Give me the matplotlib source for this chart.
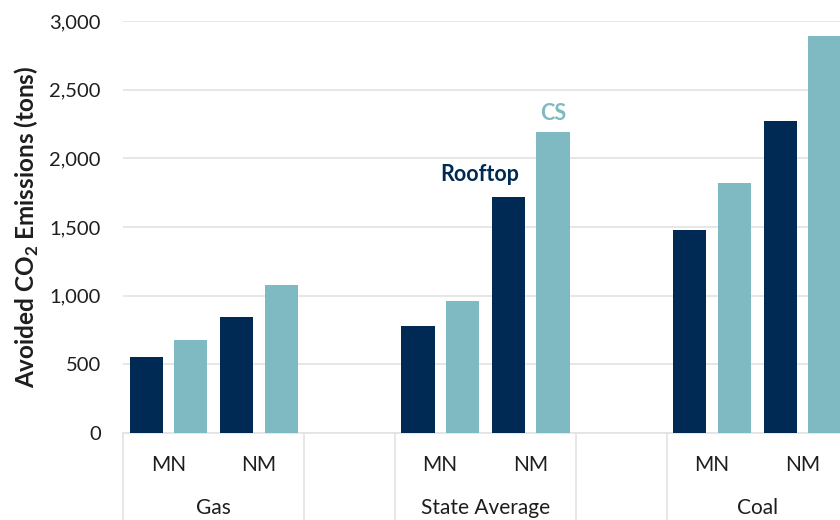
import matplotlib
matplotlib.use("Agg")
import matplotlib.pyplot as plt
import matplotlib.transforms as mtransforms

# ----------------------------------------------------------------------
# data
# ----------------------------------------------------------------------
groups = ["Gas", "State Average", "Coal"]
states = ["MN", "NM"]
rooftop = [553, 845, 779, 1718, 1478, 2272]
cs = [677, 1078, 961, 2192, 1820, 2891]
y_ticks = [0, 500, 1000, 1500, 2000, 2500, 3000]

NAVY = "#002a54"
TEAL = "#7fb9c2"
GRID = "#e3e3e3"
TEXT = "#1e1e1e"

plt.rcParams["font.family"] = ["Lato", "DejaVu Sans"]
plt.rcParams["mathtext.fontset"] = "custom"
plt.rcParams["mathtext.rm"] = "Lato"
plt.rcParams["mathtext.bf"] = "Lato:bold"

fig = plt.figure(figsize=(8.4, 5.2), dpi=100)
# axes spans slightly past the right edge: the reference is cropped there
ax = fig.add_axes([123 / 840, 1 - 433 / 520, 725 / 840, 412 / 520])

# x position of each (group, state) slot; one empty slot between groups
xs = [g * 3 + s for g in range(len(groups)) for s in range(len(states))]
w = 0.365
off = 0.245
ax.bar([x - off for x in xs], rooftop, width=w, color=NAVY, zorder=3)
ax.bar([x + off for x in xs], cs, width=w, color=TEAL, zorder=3)

ax.set_xlim(-0.5, 7.5)
ax.set_ylim(0, 3000)
ax.set_yticks(y_ticks)
ax.set_yticklabels([f"{v:,}" for v in y_ticks])
ax.yaxis.grid(True, color=GRID, linewidth=1.2, zorder=0)
ax.tick_params(axis="y", length=0, pad=16, labelsize=14.5, labelcolor=TEXT)
ax.set_xticks([])
for side in ["top", "right", "left"]:
    ax.spines[side].set_visible(False)
ax.spines["bottom"].set_color(GRID)
ax.spines["bottom"].set_linewidth(1.2)

ax.set_ylabel(r"Avoided CO$_\mathbf{2}$ Emissions (tons)", fontsize=17.5,
              fontweight="bold", color=TEXT, labelpad=6)

# two-level category axis
trans = mtransforms.blended_transform_factory(ax.transData, ax.transAxes)
for x, st in zip(xs, states * len(groups)):
    ax.text(x, -32 / 412, st, transform=trans, ha="center", va="center",
            fontsize=15, color=TEXT)
for g, name in enumerate(groups):
    ax.text(g * 3 + 0.5, -75 / 412, name, transform=trans, ha="center",
            va="center", fontsize=15, color=TEXT)
for b in [-0.5, 1.5, 2.5, 4.5, 5.5, 7.5]:
    ax.plot([b, b], [0, -0.3], transform=trans, color=GRID, linewidth=1.2,
            clip_on=False)

# series labels placed next to the State Average NM bars
ax.text(3.44, 1880, "Rooftop", ha="center", va="center", fontsize=15.5,
        fontweight="bold", color=NAVY)
ax.text(4 + off, 2325, "CS", ha="center", va="center", fontsize=15.5,
        fontweight="bold", color=TEAL)

fig.savefig("out.png", dpi=100)
